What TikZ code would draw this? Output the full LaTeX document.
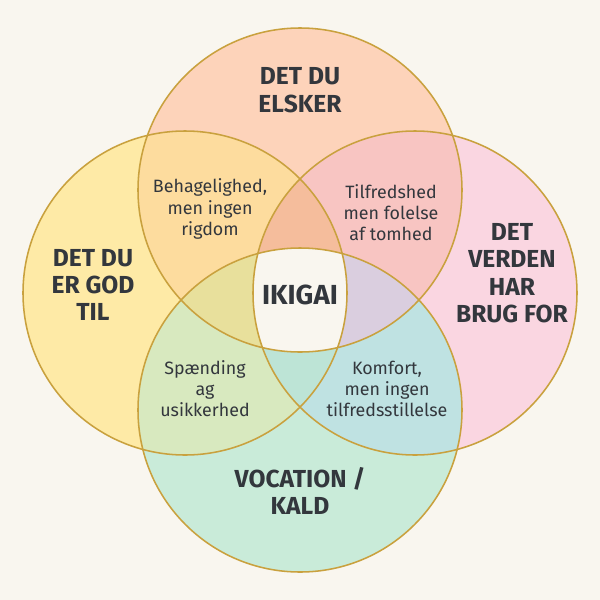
\documentclass[tikz,border=0pt]{standalone}
\usepackage{fontspec}
\setmainfont{Fira Sans}

\definecolor{IkiBg}{HTML}{F9F6EF}
\definecolor{IkiLine}{HTML}{C9A13E}
\definecolor{IkiText}{HTML}{33373D}
\definecolor{LoveFill}{HTML}{FDD3BA}
\definecolor{GoodFill}{HTML}{FEEAA6}
\definecolor{WorldFill}{HTML}{FAD6E1}
\definecolor{VocFill}{HTML}{C9EBD9}
\definecolor{LoveGood}{HTML}{FDDC9E}
\definecolor{LoveWorld}{HTML}{F8C5C2}
\definecolor{GoodVoc}{HTML}{D8E9BF}
\definecolor{WorldVoc}{HTML}{BFE2E2}
\definecolor{AboveCol}{HTML}{F5BD9C}
\definecolor{LeftCol}{HTML}{E8E09C}
\definecolor{RightCol}{HTML}{DACEDF}
\definecolor{BelowCol}{HTML}{BDE4D6}

\tikzset{
  circlabel/.style={align=center, text=IkiText, font=\fontsize{17.5}{19.5}\selectfont\bfseries},
  pairlabel/.style={align=center, text=IkiText, font=\fontsize{12.7}{15}\selectfont},
  ring/.style={draw=IkiLine, line width=1.1pt}
}

\begin{document}
\begin{tikzpicture}[x=0.025cm, y=0.025cm]
                \fill[IkiBg] (0,0) rectangle (600,-600);
                \useasboundingbox (0,0) rectangle (600,-600);
                \def\rad{162}

                % Circle centres
                \coordinate (love) at (300,-190);
                \coordinate (good) at (185,-293);
                \coordinate (world) at (415,-293);
                \coordinate (vocation) at (300,-410);

                % Single circles
                \fill[LoveFill] (love) circle[radius=\rad];
                \fill[GoodFill] (good) circle[radius=\rad];
                \fill[WorldFill] (world) circle[radius=\rad];
                \fill[VocFill] (vocation) circle[radius=\rad];

                % Overlaps of two
                \begin{scope}
                    \clip (love) circle[radius=\rad];
                    \fill[LoveGood] (good) circle[radius=\rad];
                    \fill[LoveWorld] (world) circle[radius=\rad];
                \end{scope}
                \begin{scope}
                    \clip (vocation) circle[radius=\rad];
                    \fill[GoodVoc] (good) circle[radius=\rad];
                    \fill[WorldVoc] (world) circle[radius=\rad];
                \end{scope}

                % Overlaps of three
                \begin{scope}
                    \clip (love) circle[radius=\rad];
                    \clip (good) circle[radius=\rad];
                    \fill[AboveCol] (world) circle[radius=\rad];
                    \fill[LeftCol] (vocation) circle[radius=\rad];
                \end{scope}
                \begin{scope}
                    \clip (world) circle[radius=\rad];
                    \clip (vocation) circle[radius=\rad];
                    \fill[RightCol] (love) circle[radius=\rad];
                    \fill[BelowCol] (good) circle[radius=\rad];
                \end{scope}

                % Centre
                \begin{scope}
                    \clip (love) circle[radius=\rad];
                    \clip (good) circle[radius=\rad];
                    \clip (world) circle[radius=\rad];
                    \fill[IkiBg] (vocation) circle[radius=\rad];
                \end{scope}

                % Outlines
                \draw[ring] (love) circle[radius=\rad];
                \draw[ring] (good) circle[radius=\rad];
                \draw[ring] (world) circle[radius=\rad];
                \draw[ring] (vocation) circle[radius=\rad];

                % Labels
                \node[circlabel] (lovetxt) at (300,-90) {DET DU\\ELSKER};
                \node[circlabel] (goodtxt) at (93,-285) {DET DU\\ER GOD\\TIL};
                \node[circlabel] (worldtxt) at (512,-273) {DET\\VERDEN\\HAR\\BRUG FOR};
                \node[circlabel] (voctxt) at (300,-491) {VOCATION /\\KALD};
                \node[circlabel, font=\fontsize{19.6}{22}\selectfont\bfseries] (ikigai) at (300,-295) {IKIGAI};

                \node[pairlabel] (lgtxt) at (210,-209) {Behagelighed,\\men ingen\\rigdom};
                \node[pairlabel] (lwtxt) at (391,-213) {Tilfredshed\\men folelse\\af tomhed};
                \node[pairlabel] (gvtxt) at (205,-389) {Spænding\\ag\\usikkerhed};
                \node[pairlabel] (wvtxt) at (387,-389) {Komfort,\\men ingen\\tilfredsstillelse};
            \end{tikzpicture}
\end{document}
